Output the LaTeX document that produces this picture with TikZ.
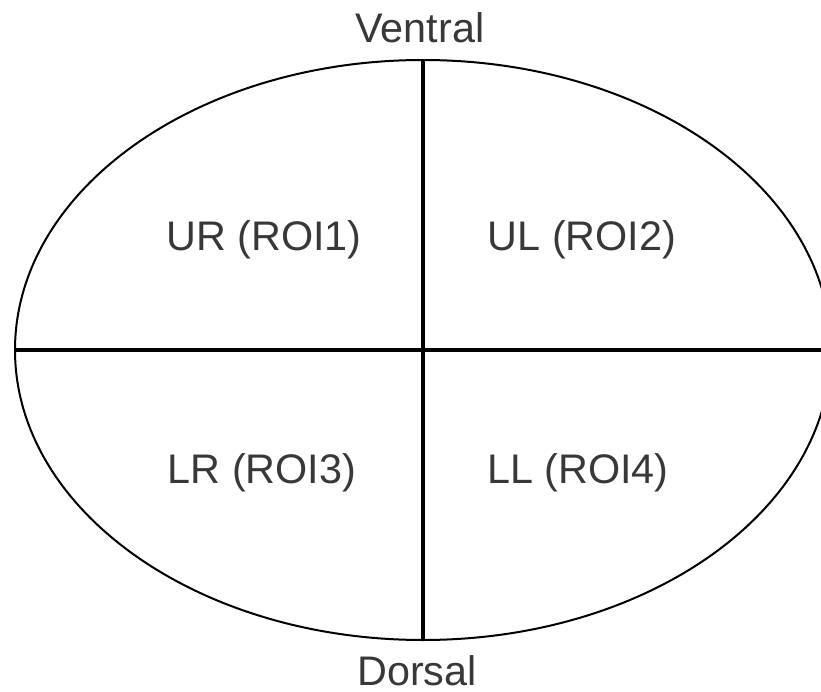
\documentclass[tikz,border=0pt]{standalone}
\usepackage{fontspec}
\setmainfont{Liberation Sans}
\usetikzlibrary{shapes.geometric}

\tikzset{
  outline/.style={draw=black, line width=1.5pt, ellipse, inner sep=0pt, outer sep=0pt,
                  minimum width=612pt, minimum height=435pt},
  divider/.style={draw=black, line width=2.6pt},
  label/.style={text=black!78, anchor=base, inner sep=0pt,
                font=\fontsize{31}{36}\selectfont}
}

\begin{document}
\begin{tikzpicture}[x=0.75pt, y=-0.75pt]
  \useasboundingbox (0,0) rectangle (821,692);
  \clip (0,0) rectangle (821,692);

  % oval section with its two dividing axes
  \node[outline] (body) at (423,350) {};
  \draw[divider] (body.west) -- (body.east);
  \draw[divider] (body.north) -- (body.south);

  % orientation labels
  \node[label] (ventral) at (420,43) {Ventral};
  \node[label] (dorsal)  at (417,685) {Dorsal};

  % quadrant labels
  \node[label] (ur) at (264,250) {UR (ROI1)};
  \node[label] (ul) at (582,250) {UL (ROI2)};
  \node[label] (lr) at (262,483) {LR (ROI3)};
  \node[label] (ll) at (578,483) {LL (ROI4)};
\end{tikzpicture}
\end{document}
